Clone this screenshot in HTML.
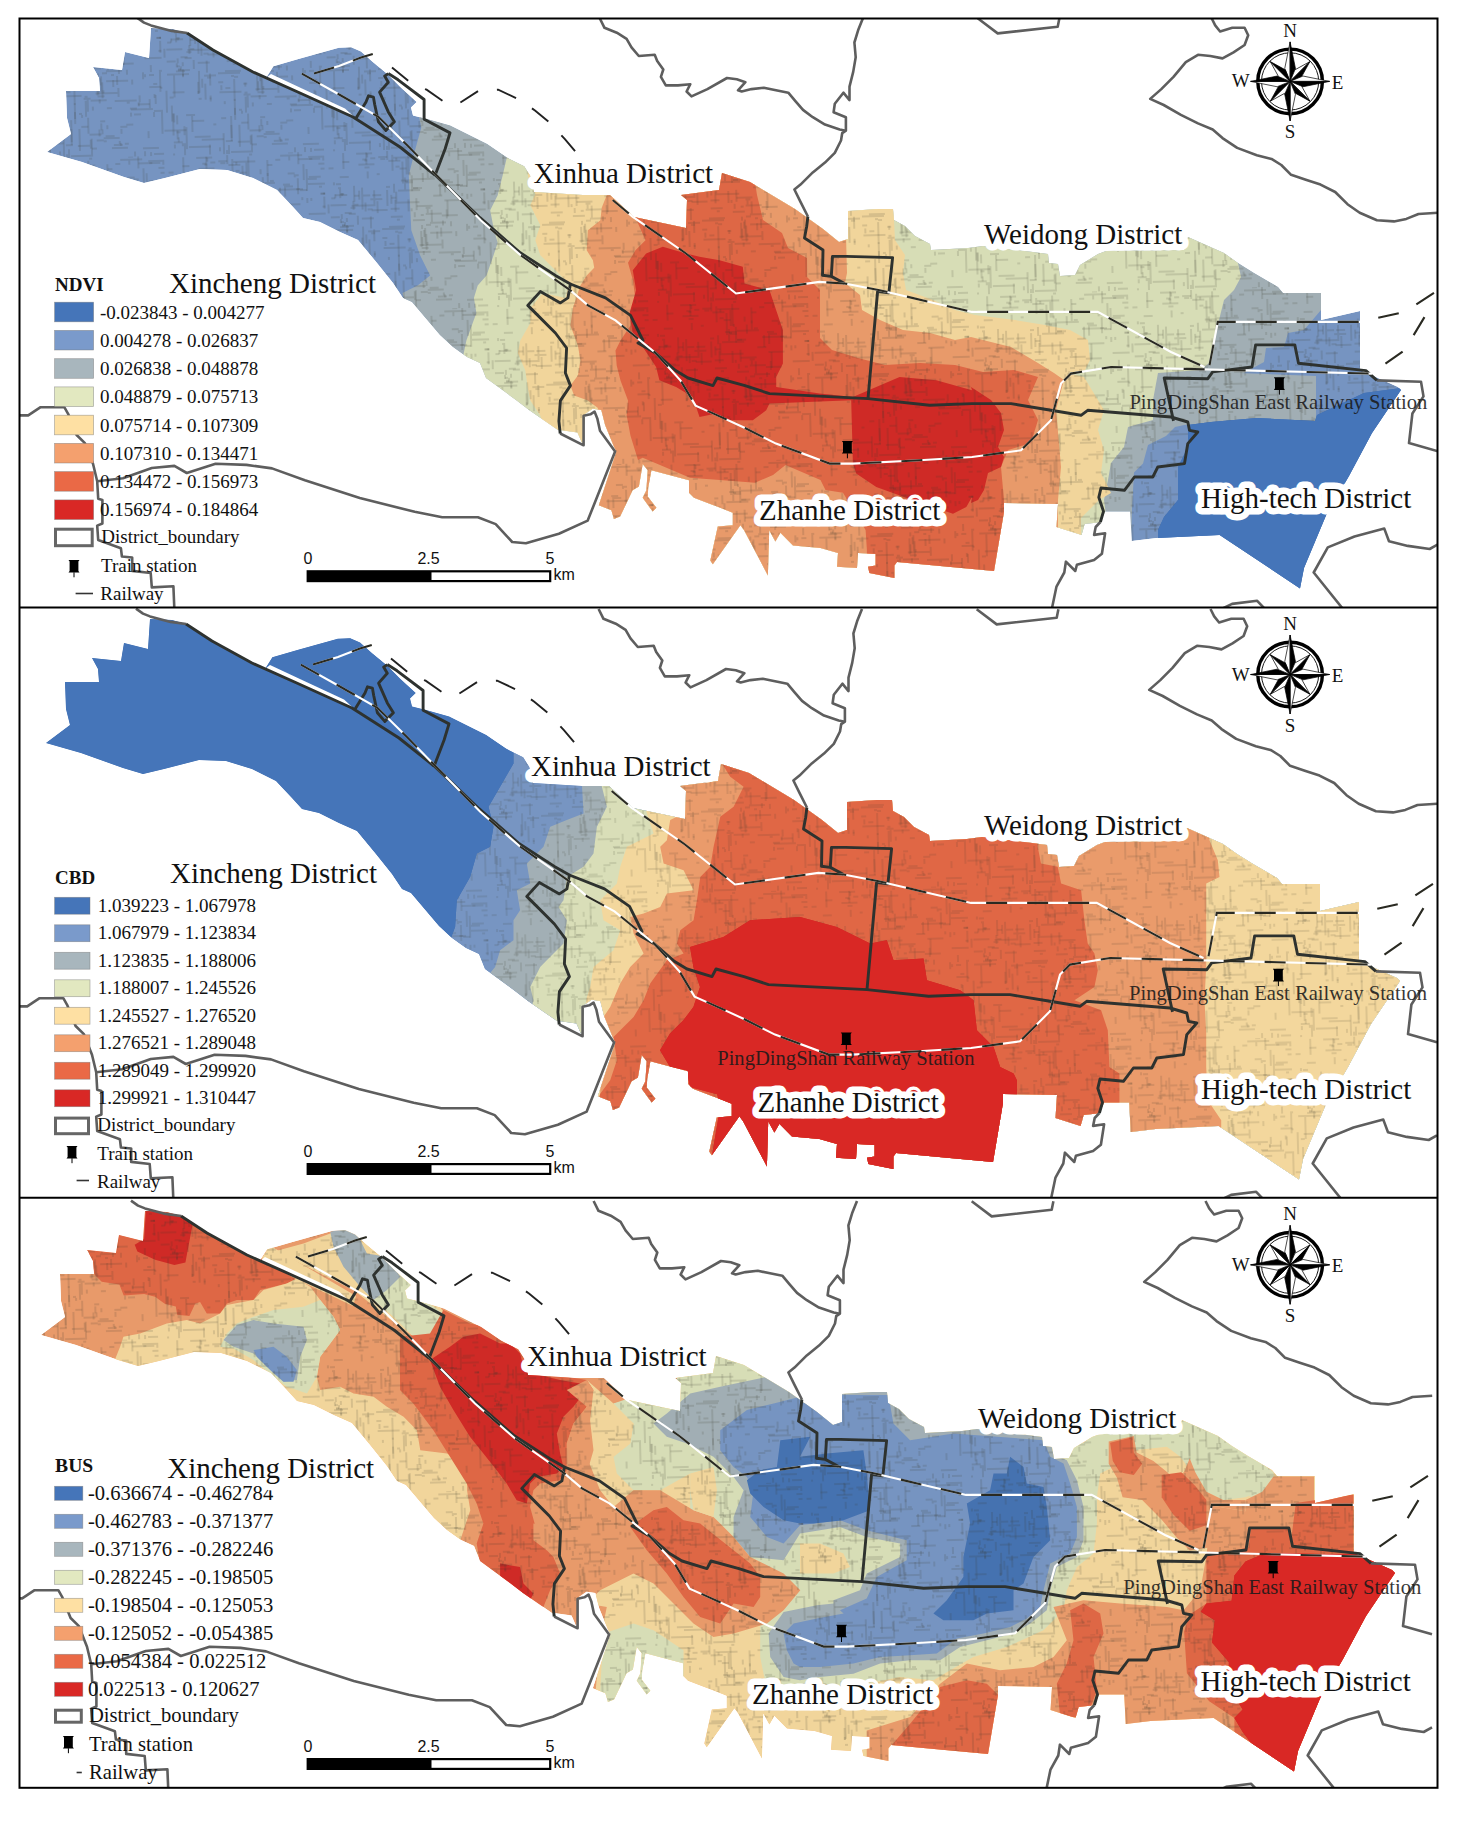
<!DOCTYPE html>
<html lang="en"><head><meta charset="utf-8"><title>NDVI, CBD and BUS maps</title>
<style>html,body{margin:0;padding:0;background:#fff}svg{display:block}text{font-family:"Liberation Serif",serif;fill:#111}.sans{font-family:"Liberation Sans",sans-serif;font-size:16px}.lab{font-size:29px;paint-order:stroke;stroke:#fff;stroke-width:13px;stroke-linejoin:round}.st{font-size:20.6px;fill:#1a1a1a;opacity:0.88}.lg{font-size:19px}.g{fill:none;stroke:#5e5e5e;stroke-width:2.6;stroke-linejoin:round}.d{fill:none;stroke:#2e322f;stroke-width:2.9;stroke-linejoin:round}.rw{fill:none;stroke:#fff;stroke-width:2.1}.rb{fill:none;stroke:#2a2a22;stroke-width:2.1;stroke-dasharray:21 20}.ro{fill:none;stroke:#222;stroke-width:1.9;stroke-dasharray:21 19}</style></head><body>
<svg width="1457" height="1822" viewBox="0 0 1457 1822">
<defs>
<path id="city" d="M151 28 L173 29 L187 33 L213 50 L253 72 L266 78 L273.4 66.2 L299.3 58.8 L338.8 47.7 L351.2 47.2 L361 51.4 L373.4 62.5 L388.3 74.8 L400.6 87.2 L416.7 102 L411 107.4 L413 115.6 L427.8 119.3 L450 125.5 L487.1 144 L506.9 157.6 L524.2 166.3 L530.3 176.1 L534 192 L583 195 L610 195 L634 217 L686 228 L687 200 L681 195 L719 190 L722 173 L750 182 L795 209 L823 229 L839 242 L848 239 L848 211 L878 209 L893 209 L894 220 L905 226 L915 236 L930 244 L931 250 L968 248 L983 246 L1033 252 L1048 254 L1049 263 L1058 264 L1060 276 L1075 275 L1080 265 L1098 254 L1106 251 L1184 250 L1188 237 L1224 253 L1238 263 L1254 273 L1278 287 L1283 293 L1321 293 L1321 320 L1360 311 L1360 370 L1398 387 L1401 390 L1372 433 L1349 476 L1326 515.5 L1304 568 L1300 588.5 L1219.6 535 L1156.8 538 L1131.7 541 L1130.2 511.4 L1105 511.4 L1100.4 522.3 L1084.7 524 L1081.6 535 L1056.5 527 L1058 504 L1004 503 L1004 512 L994 571 L940 566 L897 562 L894.4 565.4 L894.4 578 L869.4 573 L868 566.7 L875.6 565.4 L875.6 554 L858 553 L857 568 L837 566.7 L838 553 L820.5 548 L793 545.4 L780.4 532.8 L775.4 541.6 L769.2 530.3 L767.9 575.4 L744.1 530.3 L740.4 525.3 L712.8 564.2 L710.3 560.4 L717.8 526.6 L732.8 525.3 L732.8 512.8 L720.3 507.8 L710.3 504 L694 497.8 L689 492.8 L689 480.2 L651.4 470.2 L648.2 487.8 L647.7 496.5 L656.4 507.8 L652.7 511.6 L642.7 497.8 L646.4 490.3 L647.7 470.2 L642.7 464 L638.9 486.5 L632.6 490.3 L620.1 516.6 L613.9 519.1 L611.4 510.3 L598.8 505.3 L616.4 451.4 L613.9 446.4 L605.1 425.1 L601.3 410.1 L592.6 408.8 L585 413.9 L582.5 443.9 L577.5 432.6 L560 430 L558 430 L529 410 L516 400 L486 378 L480 363 L467 357 L453 347 L440 335 L412 302 L403 298 L393 283 L377 263 L358 240 L340 232 L320 222 L303 218 L293 207 L277 190 L253 178 L227 170 L200 169 L165 178 L144 183 L124 177 L82 162 L47 152 L71 134 L67 118 L66 91 L100 91 L99 78 L93 67 L122 70 L125 52 L149 58Z"/>
<clipPath id="cityclip"><use href="#city"/></clipPath>
<clipPath id="pc0"><rect x="19.5" y="18.5" width="1418.0" height="589.0"/></clipPath>
<clipPath id="pc1"><rect x="19.5" y="607.5" width="1418.0" height="590.3"/></clipPath>
<clipPath id="pc2"><rect x="19.5" y="1197.8" width="1418.0" height="590.0"/></clipPath>
<pattern id="tex" width="160" height="160" patternUnits="userSpaceOnUse" patternTransform="rotate(-1.5)"><rect width="160" height="160" fill="#4a4a40" opacity="0.07"/><path d="M52 24h3M86 59v3M34 14h16M15 68v4M101 93v3M63 156v3M21 67v4M90 109v4M102 60v4M99 79v16M74 148h12M127 112h7M48 79v12M46 157v4M26 55h22M154 12h12M56 79h22M15 43h4M112 104h22M62 107v3M57 98h22M123 21h7M147 79h5M88 141v16M45 66v12M61 37h4M37 37v22M29 45h5M59 91v5M82 99h3M139 152h16M63 77h16M11 33h5M96 16v5M152 98v4M98 24v9M96 76v4M159 75h22M23 120h9M111 83v7M85 23v3M48 103v4M42 59h5M36 87v12M98 126v7M131 118h7M79 117v3M76 31h12M150 158h12M16 75h12M100 144h3M104 128v4M19 62h7M29 126h12M151 115h22M151 116v5M4 95v22M23 132v22M56 88h5M128 116v4M149 69v7M34 40v9M122 52v16M10 118v22M130 83v5M84 3v22M97 124h5M76 116h3M83 89v4M9 31v3M81 90h4M98 81v7M72 85v22M40 84v9M143 32h22M19 71v4M69 34v9M144 25h12M141 155v7M15 142v5M133 26v16M65 67h12M116 3h22M3 53v9M10 158v7M17 42v3M29 121v16M108 151h16M147 91h12M9 110v16M43 3v4M13 137h4M19 2v16M43 21v7M155 42h5M50 49h7M80 28v12M159 6v3M88 30h22M72 105v16M87 142v9M157 55h5M56 9h5M100 141h16M14 135v9M111 7h5M71 42v12M88 39h9M29 54h4M80 32h3M131 23h3M48 101v4M85 120v16M115 79v9M103 7v16M130 22v3M93 143h7M7 102h4M72 8v3M109 78h3M11 149v4M11 118v9M135 38h7M104 74h16M146 46v3M103 12h5M104 111h5M10 43v4M108 47h9M75 19h7M14 76h9M131 155v22M62 147h7M14 120v9M21 131v9M113 37h22M25 152h22M116 67h16M134 0v12M19 148v3M46 60h16M139 12v16M137 45v3M46 150v7M70 50v12M68 5v16M151 88h4M117 72v5M46 8h5M66 45v9M156 42h7M89 63v5M12 80v22M72 53h22M88 39h5M15 38v9M32 3h16M119 34h9M10 44h12M81 101h7M143 62h22M50 130h3M68 122v22M78 12v22M40 17h5M156 17h22M124 0h5M147 103v9M100 85v16M18 11h7M36 96v3M159 45v12M141 76v7M5 66h9M31 142h16M36 68h12M5 54h16M63 1v9M81 33h7M131 37h7M142 17v22M143 78v3M23 63h7M95 66h3M72 114v12M160 149h12M104 84h22M106 61v12M71 17h4M56 153v4M121 61v9M69 8h22M87 71h12M144 5h16M100 65h16M10 147h9M10 97h12M153 99v9M110 148h9M121 147h4M37 76v22M62 40v16M21 79v3M118 132v5M52 51v12M95 82v16M40 10h3M87 26v16M158 42h4M67 158h22M21 74v7M136 106v4M47 45h9M118 32h7M38 45h7M63 159v7M16 74h3M76 131v22M6 47h4M96 132v7M60 139v22M124 106h3M95 99h7M54 7h9M117 146v3M65 59h9M5 79h22M16 63v5M15 26h9M45 49h3M91 57h16M123 128h7M65 151v16M68 131v16M58 124h5M88 103h16M100 59h5M45 83h4M78 129h7M134 7h22M97 102v4M99 132v5M137 99v7M29 35v16M25 57h5M116 144v3M135 108h12M96 88v9M49 40v16M71 70h3M158 74v22M125 73v5M64 11h12M15 71h3M21 148v12M82 9v16M125 4v4M117 130h7M142 46v5M115 35v12M40 52v9M73 41h22M42 81h12M32 65v9M143 27h9M85 102v12M72 83h4M86 137h12M158 92h12M13 37h3M83 50v12M120 35v9M69 82h3M36 104h3M91 49v12M66 48h5M100 76h5M128 113h22M102 139h9M42 2v12M93 96h22M145 7h3M38 9h4M88 151h5M83 103v16M28 50v9M159 116v22M1 135h22M105 28h4M103 20v9M43 89v16M147 156v9M154 35h3M145 135v7M119 52h16M38 145h22M85 1h3M116 91v9M63 94h5M4 17h5" stroke="#33332a" stroke-width="0.7" fill="none" opacity="0.42"/></pattern>
<g id="lines"><path class="g" d="M137 17.6 L144 22.6 L151 25.4 L171.6 30.9 L187 33"/><path class="g" d="M18 415.4 L28.2 415.4 L40.6 407.2 L64.3 407.2 L68.4 414.4 L76.6 435 L84.9 443.2 L93 463.8 L97.2 481.3 L98.2 498.8 L102.4 499.9 L102.4 523.5 L97.2 525.6 L98.2 540 L120.9 548.2 L121.9 556.5 L132.2 557.5 L132.2 570.9 L150.7 573 L151.8 587.4 L173.4 586.3 L174.4 610"/><path class="g" d="M97.2 481.3 L123 478.2 L151.8 468 L174.4 465.9 L186.8 473 L215.6 463.8 L246.5 464.9 L272 468.4 L304.9 480.2 L359.8 498.1 L414.7 511.8 L442.2 517.3 L477.9 517.3 L495.7 524.1 L512.2 542 L525.9 543.3 L558.9 533.7 L587.7 520.6 L615.1 451.4 L600 430.8 L597.3 418.4 L594.5 411.6 L590.4 414.3 L583.6 415.7 L583.6 445.3 L560.2 433.5"/><path class="g" d="M599.6 18 L604.5 27.8 L616.8 32.7 L626.6 38.8 L631.5 47.4 L638.8 56 L654.7 54.8 L657.2 60.9 L663.3 69.5 L660.9 76.8 L665.8 85.4 L678 85.4 L690.3 84.2 L686.6 91.5 L691.5 96.4 L707.4 89.1 L727 78 L736.8 79.3 L745.4 82.2 L738 90.3 L741.7 91.5 L751.5 89.1 L763.8 87.8 L776 90.3 L788.3 92.7 L795.6 101.3 L803 109.9 L812.8 117.2 L825 124.6 L839.7 129.5 L845.9 130.7"/><path class="g" d="M863 18 L858.1 30.3 L854.4 42.5 L855.7 57.2 L853.2 71.9 L849.5 86.6 L849.5 100.1 L843.4 92.7 L834.8 103.8 L833.6 112.3 L839.7 114.8 L845.9 117.2 L845.9 130.7 L842.2 133.2 L841 140.5 L834.8 152.8 L825 162.6 L812.8 172.4 L800.5 184.6 L794.4 189.5 L800.5 201.8 L807.9 216.5"/><path class="g" d="M977.7 18.3 L997.7 33.4 L1057.7 26.7 L1059.4 18.3"/><path class="g" d="M1211.5 18 L1215.2 25.4 L1220.1 31.5 L1232.3 27.8 L1244.6 27.8 L1248.2 35.2 L1244.6 45 L1233.5 52.3 L1222.5 58.4 L1210.3 56 L1198 54.8 L1185.8 62.1 L1173.5 76.8 L1161.3 89.1 L1150.2 98.9 L1163.7 105 L1180.9 114.8 L1198 123.4 L1212.7 129.5 L1222.5 138.1 L1237.2 147.9 L1256.8 155.2 L1271.5 158.9 L1281.3 165 L1291.1 174.8 L1305.8 179.7 L1320.5 184.6 L1335.2 192 L1347.5 204.2 L1359.7 212.8 L1376.9 220.2 L1394 221.4 L1406.3 218.9 L1418.5 214 L1438.2 212.8"/><path class="g" d="M1376.9 380.4 L1421 381.7 L1423.5 396.4 L1412.4 413.5 L1409 443.1 L1438 451.3"/><path class="g" d="M1438 544.3 L1429.7 549 L1407.8 545.9 L1389 541.2 L1384.3 528.6 L1354.5 536.5 L1327.8 547.4 L1313.7 572.5 L1343 609"/><path class="g" d="M1219.6 609.9 L1232.1 603.9 L1257.2 600.8 L1265 609"/><path class="g" d="M1100.4 522 L1095.7 527 L1094.1 534.9 L1105.1 533.3 L1101.9 553.7 L1094.1 560 L1076.9 564.7 L1075.3 571 L1065.9 561.6 L1064.3 572.5 L1056.5 586.6 L1051.8 609"/><path class="d" d="M187 33 L213 50 L253 72 L300 93 L353 117 L400 147 L435 175"/><path class="d" d="M388.3 73.6 L398.1 79.8 L424.1 99.5 L424.1 119.3 L450 132.9 L445.1 149 L435.2 174.9 L480 217.7 L520.3 252.8 L555.4 275.4 L570.4 284 L567.9 297.9 L560.4 302.9 L540.3 291.6 L527.8 305.4 L535.3 312.9 L555.4 333 L566.6 348 L565.4 373 L570.4 385.6 L560.4 400.6 L558.9 421.2 L560.2 433.5"/><path class="d" d="M388.3 73.6 L384.6 76.1 L388.3 82.2 L379.6 92.1 L388.3 111.9 L394.4 121.8 L385.8 130.4 L378.4 121.8 L374.7 104.5 L373.4 97.1 L368.5 95.8 L366 102 L356.1 118.1"/><path class="d" d="M570.4 284 L605.5 297.9 L630.5 315.4 L643 340.5 L638 343 L655.6 353 L675.6 370.5 L688 378 L713 385.6 L717 378 L745 385.6 L769.5 393.6 L868 398.6 L929.6 405.3 L972 403.6 L1011 403.6 L1051 410.3 L1081 415.3 L1087.7 410.3 L1171 417 L1187.8 422 L1189.5 430.3 L1197.8 432 L1187.8 443.6 L1184.5 463.6 L1157.8 467 L1152.8 477 L1134.4 477 L1124.4 490.3 L1101 488 L1098.8 497.3 L1103.5 511.4 L1100.4 522"/><path class="d" d="M807.9 216.5 L806.7 226.3 L804.5 238 L823 250 L822.5 275.2 L831.3 276.4 L832.5 256.4 L846.3 256.4 L892.6 257.6 L888.9 292.7 L877.6 291.5 L868 398.6"/><path class="d" d="M831.3 276.4 L844.6 283.5"/><path class="d" d="M1173.5 420.9 L1164.2 378 L1207.8 378.7 L1212.7 371.9 L1252 367 L1255.6 344.9 L1294.8 344.9 L1298.5 363.3 L1365.9 370.6 L1376.9 380.4"/><path class="rw" d="M301.8 73.6 L340 95 L378.4 116.8 L408 146 L437.7 176.5 L481 220.5 L521 255.5 L570.4 290.4 L588 305.4 L615.5 320.4 L655.6 353 L680.6 380.6 L695.6 405.6 L718 415.6 L745 428 L776 443.6 L829.6 463.6 L853 463.6 L919.6 460.3 L972 457 L1021 450.3 L1051 420.3 L1061 383.6 L1071 373.6 L1111 367 L1371.3 373.6 L1404.6 350.2 L1434.6 300.2 M314 73.6 L339 66 L361 57.5 L375 53.3 M612.7 200 L632.8 216.8 L686 253.5 L736 293.5 L819.5 281.9 L844.6 283.5 L879.6 290.2 L972 311.9 L1097.7 311.9 L1171 352 L1204.5 367 M1209.5 365.2 L1217.8 321.9 L1359.6 321.9 L1404.6 311.9 L1438 290.2"/><path class="rb" d="M301.8 73.6 L340 95 L378.4 116.8 L408 146 L437.7 176.5 L481 220.5 L521 255.5 L570.4 290.4 L588 305.4 L615.5 320.4 L655.6 353 L680.6 380.6 L695.6 405.6 L718 415.6 L745 428 L776 443.6 L829.6 463.6 L853 463.6 L919.6 460.3 L972 457 L1021 450.3 L1051 420.3 L1061 383.6 L1071 373.6 L1111 367 L1371.3 373.6 L1404.6 350.2 L1434.6 300.2 M314 73.6 L339 66 L361 57.5 L375 53.3 M612.7 200 L632.8 216.8 L686 253.5 L736 293.5 L819.5 281.9 L844.6 283.5 L879.6 290.2 L972 311.9 L1097.7 311.9 L1171 352 L1204.5 367 M1209.5 365.2 L1217.8 321.9 L1359.6 321.9 L1404.6 311.9 L1438 290.2"/><path class="ro" d="M392 67.4 L413 84.7 L426.6 89.7 L442.6 100.8 L457.4 104.5 L478.4 90.9 L498.2 89.7 L519.2 99.5 L535.3 110.7 L550.1 123 L564.9 139.1 L577.3 153.9"/></g>
<g id="stn"><path d="M-5.5 -6.3h11l-1.1 1.6v9.4l1.1 1.6h-11l1.1 -1.6v-9.4z" fill="#000"/><path d="M0 6v5" stroke="#000" stroke-width="1"/></g>
<g id="compass"><circle r="32.3" fill="none" stroke="#000" stroke-width="3.4"/><circle r="28.6" fill="none" stroke="#000" stroke-width="0.9"/><g transform="rotate(0)"><path d="M0 0L0 -39.5L-5.36 -12.93Z" fill="#fff" stroke="#000" stroke-width="0.7"/><path d="M0 0L0 -39.5L5.36 -12.93Z" fill="#000" stroke="#000" stroke-width="0.7"/></g><g transform="rotate(45)"><path d="M0 0L0 -28L-4.78 -11.55Z" fill="#fff" stroke="#000" stroke-width="0.7"/><path d="M0 0L0 -28L4.78 -11.55Z" fill="#000" stroke="#000" stroke-width="0.7"/></g><g transform="rotate(90)"><path d="M0 0L0 -39.5L-5.36 -12.93Z" fill="#fff" stroke="#000" stroke-width="0.7"/><path d="M0 0L0 -39.5L5.36 -12.93Z" fill="#000" stroke="#000" stroke-width="0.7"/></g><g transform="rotate(135)"><path d="M0 0L0 -28L-4.78 -11.55Z" fill="#fff" stroke="#000" stroke-width="0.7"/><path d="M0 0L0 -28L4.78 -11.55Z" fill="#000" stroke="#000" stroke-width="0.7"/></g><g transform="rotate(180)"><path d="M0 0L0 -39.5L-5.36 -12.93Z" fill="#fff" stroke="#000" stroke-width="0.7"/><path d="M0 0L0 -39.5L5.36 -12.93Z" fill="#000" stroke="#000" stroke-width="0.7"/></g><g transform="rotate(225)"><path d="M0 0L0 -28L-4.78 -11.55Z" fill="#fff" stroke="#000" stroke-width="0.7"/><path d="M0 0L0 -28L4.78 -11.55Z" fill="#000" stroke="#000" stroke-width="0.7"/></g><g transform="rotate(270)"><path d="M0 0L0 -39.5L-5.36 -12.93Z" fill="#fff" stroke="#000" stroke-width="0.7"/><path d="M0 0L0 -39.5L5.36 -12.93Z" fill="#000" stroke="#000" stroke-width="0.7"/></g><g transform="rotate(315)"><path d="M0 0L0 -28L-4.78 -11.55Z" fill="#fff" stroke="#000" stroke-width="0.7"/><path d="M0 0L0 -28L4.78 -11.55Z" fill="#000" stroke="#000" stroke-width="0.7"/></g><text x="0" y="-44.5" text-anchor="middle" font-size="19">N</text><text x="0" y="57" text-anchor="middle" font-size="19">S</text><text x="-49.5" y="6" text-anchor="middle" font-size="19">W</text><text x="47.5" y="7.5" text-anchor="middle" font-size="19">E</text></g>
</defs>
<rect width="1457" height="1822" fill="#fff"/>
<g clip-path="url(#pc0)">
<g transform="translate(0 0)">
<g clip-path="url(#cityclip)">
<use href="#city" fill="#7a9acb"/>
<path d="M417.6 110 L421.3 127.6 L415.1 150.1 L408.8 175.2 L410.1 205.2 L411.3 230.3 L420.1 255.3 L430.1 275.4 L417.6 285.4 L402.5 292.9 L406.3 307.9 L415.1 322.9 L425.1 331.7 L417.6 350.5 L417.6 640 L1131 640 L1131 545 L1132 509 L1134 472.6 L1143 463.5 L1148 445 L1166 436 L1175 427 L1189 424 L1211 420 L1218 383 L1244 373 L1264 362 L1266 348 L1284 347 L1288 333 L1304 330 L1321 310 L1321 280 L1321 0 L417.6 0Z" fill="#a8b6bd"/>
<path d="M507.8 150.1 L506.5 158.9 L502.7 175.2 L497.7 195.2 L490.2 210.2 L494 230.3 L497.7 242.8 L492.7 257.8 L486.5 275.4 L477.7 285.4 L473.9 297.9 L476.4 312.9 L472.7 322.9 L466.4 340.5 L462.7 358 L457.7 370.5 L457.7 640 L1106 640 L1106 540 L1106 515 L1104 500 L1108 480 L1111 463 L1124 447 L1128 427 L1153 420 L1153 400 L1158 373 L1201 370 L1209 363 L1214 343 L1219 320 L1224 300 L1234 290 L1241 277 L1238 263 L1238 230 L1238 0 L507.8 0Z" fill="#e2e8c0"/>
<path d="M527.8 175.2 L530.3 185.2 L535.3 193.9 L530.3 205.2 L540.3 225.3 L535.3 240.3 L540.3 255.3 L555.4 270.3 L569.1 284.1 L565.4 297.9 L542.8 292.9 L530.3 307.9 L530.3 322.9 L520.3 340.5 L517.8 353 L525.3 370.5 L527.8 388.1 L530.3 400.6 L540.3 415.6 L542.8 423.1 L540.3 435.7 L540.3 640 L1081 640 L1081 540 L1081 518 L1099 500 L1111 493 L1101 473 L1104 450 L1098 430 L1104 410 L1084 377 L1068 373 L1085 370 L1090 360 L1088 340 L1070 330 L1045 325 L1015 320 L975 315 L955 310 L933 300 L906 290 L903 273 L905 255 L895 240 L894 220 L894 190 L894 0 L527.8 0Z" fill="#fee0a3"/>
<path d="M610.5 185.2 L606.7 195.2 L601.7 207.7 L600.4 220.2 L587.9 230.3 L586.7 250.3 L592.9 260.3 L594.2 267.8 L586.7 275.4 L580.4 285.4 L572.9 307.9 L570.4 325.5 L577.9 345.5 L580.4 360.5 L577.9 375.6 L570.4 385.6 L574.1 395.6 L587.9 400.6 L597.9 408.1 L595.4 425.7 L595.4 640 L1058 640 L1058 540 L1058 500 L1061 467 L1059 443 L1056 410 L1064 380 L1054 373 L1038 363 L1011 347 L971 337 L955 340 L930 333 L903 330 L880 320 L862 310 L860 295 L845 283 L847 273 L846 235 L846 200 L846 0 L610.5 0Z" fill="#f4a06e"/>
<path d="M630.5 205.2 L635.5 217.7 L645.5 240.3 L635.5 250.3 L628 262.8 L633 280.4 L635.5 300.4 L630.5 315.4 L630.5 325.5 L620.5 340.5 L615.5 350.5 L616.7 365.5 L620.5 380.6 L628 400.6 L626.7 415.6 L630.5 435.7 L638 460 L642.7 457.7 L660 465 L690 477.7 L720 480 L755 482.7 L773 475 L785.5 465 L820.5 480 L825.5 490 L843 492.8 L865.6 530 L866.9 550 L866 620 L1004 620 L1004 500 L1001 467 L1008 450 L1031 443 L1038 420 L1028 400 L1038 377 L1014 370 L983 372 L955 365 L920 363 L885 365 L858 358 L832 350 L820 338 L820 290 L807 277 L807 258 L788 248 L782 233 L763 220 L757 195 L750 150 L630 150Z" fill="#ea6946"/>
<path d="M662.8 246.8 L686.1 253.5 L699.5 256.8 L719.5 260.2 L742.8 266.8 L744.5 283.5 L769.5 290.2 L776.2 310.2 L782.9 330.2 L782.9 363.6 L776.2 376.9 L776.2 386.9 L819.6 393.6 L852.9 396.9 L899.6 376.9 L936.3 380.3 L972 390.3 L971 387 L991 400 L1001 413 L1004 430 L998 447 L1004 457 L1001 467 L988 473 L984 490 L978 500 L971 503 L972 497 L966.3 507 L953 513.7 L913 500.3 L876.3 487 L856.2 473.6 L852.9 463.6 L851.2 400.3 L769.5 403.6 L766.2 410.3 L752.8 420.3 L726.2 420.3 L716.2 413.6 L699.5 416.9 L692.8 396.9 L676.1 386.9 L659.4 380.3 L656.1 366.9 L642.8 346.9 L632.8 333.6 L629.4 313.5 L636.1 290.2 L632.8 270.2 L646.1 253.5Z" fill="#d92825"/>
<path d="M1166 376 L1210 372 L1316 376 L1316 421 L1257 418 L1211 422 L1188 425 L1176 424Z" fill="#a8b6bd"/>
<path d="M1188 425 L1211 422 L1257 418 L1315 421 L1317 415 L1364 393 L1401 388 L1450 388 L1450 640 L1158 640 L1158 530 L1164 517 L1178 500 L1178 467 L1188 447Z" fill="#4575b9"/>
<use href="#city" fill="url(#tex)" opacity="1"/>
<path d="M1188 425 L1211 422 L1257 418 L1315 421 L1317 415 L1364 393 L1401 388 L1450 388 L1450 640 L1158 640 L1158 530 L1164 517 L1178 500 L1178 467 L1188 447Z" fill="#4575b9"/>
</g>
<path d="M266 78L300 93L353 117L357 119.5L345 108.5L302 88.5L271 74Z" fill="#fff"/>
<use href="#lines"/>
</g>
</g>
<g clip-path="url(#pc1)">
<g transform="translate(-1 591)">
<g clip-path="url(#cityclip)">
<use href="#city" fill="#4575b9"/>
<path d="M514.5 152.4 L514.5 172.4 L501.1 195.8 L489.5 215.8 L494.5 235.8 L491.1 255.8 L477.8 262.5 L471.1 285.9 L457.8 309.2 L456.1 335.9 L451.1 349.2 L447.8 362.6 L447.8 640 L1460 640 L1460 0 L514.5 0Z" fill="#7a9acb"/>
<path d="M582.9 192.5 L584.5 222.5 L567.8 229.1 L551.2 235.8 L544.5 255.8 L527.8 272.5 L531.2 292.5 L517.8 299.2 L521.1 319.2 L514.5 329.2 L514.5 349.2 L501.1 359.2 L496.1 375.9 L487.8 385.9 L484.5 399.3 L484.5 640 L1460 640 L1460 0 L582.9 0Z" fill="#a8b6bd"/>
<path d="M601.2 185.8 L602.9 195.8 L607.9 215.8 L597.9 235.8 L594.5 262.5 L584.5 275.8 L567.8 285.9 L564.5 309.2 L559.5 315.9 L567.8 329.2 L564.5 352.6 L547.8 369.2 L541.2 375.9 L531.2 395.9 L534.5 409.3 L531.2 422.6 L531.2 640 L1460 640 L1460 0 L601.2 0Z" fill="#e2e8c0"/>
<path d="M644.6 209.1 L647.9 222.5 L654.6 242.5 L627.9 255.8 L621.2 275.8 L617.9 292.5 L601.2 309.2 L604.5 329.2 L621.2 339.2 L614.5 359.2 L594.5 375.9 L591.2 395.9 L587.9 405.9 L584.5 425.9 L584.5 640 L1460 640 L1460 0 L644.6 0Z" fill="#fee0a3"/>
<path d="M681.3 185.8 L681.3 195.8 L684.6 222.5 L671.2 229.1 L667.9 249.2 L661.2 255.8 L664.6 272.5 L684.6 279.2 L694.6 299.2 L667.9 302.5 L661.2 315.9 L644.6 322.5 L631.2 325.9 L634.6 342.6 L644.6 362.6 L631.2 375.9 L621.2 392.6 L611.2 415.9 L604.5 425.9 L601.2 442.6 L601.2 640 L1222.2 640 L1222.2 556 L1222.2 529.3 L1208.8 509.3 L1207.2 476 L1207.2 442.6 L1205.5 409.3 L1207.2 375.9 L1207.2 292.5 L1220.5 285.9 L1218.8 269.2 L1210.5 249.2 L1210.5 225.8 L1210.5 0 L681.3 0Z" fill="#f4a06e"/>
<path d="M721.3 159.1 L722.9 172.4 L731.3 185.8 L744.6 195.8 L734.6 215.8 L721.3 225.8 L714.6 255.8 L711.3 275.8 L701.3 285.9 L697.9 309.2 L694.6 329.2 L681.3 339.2 L677.9 352.6 L684.6 362.6 L667.9 369.2 L651.2 392.6 L644.6 409.3 L634.6 425.9 L614.5 446 L617.9 469.3 L611.2 489.3 L601.2 502.7 L594.5 522.7 L594.5 640 L1120.4 640 L1120.4 542.7 L1120.4 482.6 L1110.4 476 L1108.8 439.3 L1102.1 419.3 L1075.4 409.3 L1095.4 395.9 L1098.8 379.2 L1095.4 362.6 L1088.7 352.6 L1085.4 329.2 L1082.1 299.2 L1062.1 292.5 L1058.7 275.8 L1042 272.5 L1038.7 255.8 L1038.7 235.8 L1038.7 0 L721.3 0Z" fill="#ea6946"/>
<path d="M691 355.9 L724.4 345.9 L751.1 329.2 L801.1 325.9 L837.8 335.9 L871.2 352.6 L887.8 349.2 L894.5 369.2 L924.5 367.6 L927.9 389.3 L961.2 399.3 L974.6 409.3 L977.9 439.3 L994.6 456 L1001.2 476 L1014.6 482.6 L1017.9 489.3 L1017.9 509.3 L1004.6 509.3 L994.6 596.1 L707.7 596.1 L721.1 516.3 L718.1 503.3 L691 496 L687.7 479.3 L671 476 L661 459.3 L671 442.6 L684.4 429.3 L694.4 415.9 L701 395.9 L694.4 375.9Z" fill="#d92825"/>
<use href="#city" fill="url(#tex)" opacity="0.85"/>
<path d="M0 0 L514.5 0 L514.5 152.4 L514.5 172.4 L501.1 195.8 L489.5 215.8 L494.5 235.8 L491.1 255.8 L477.8 262.5 L471.1 285.9 L457.8 309.2 L456.1 335.9 L451.1 349.2 L447.8 362.6 L447.8 640 L0 640Z" fill="#4575b9"/>
<path d="M691 355.9 L724.4 345.9 L751.1 329.2 L801.1 325.9 L837.8 335.9 L871.2 352.6 L887.8 349.2 L894.5 369.2 L924.5 367.6 L927.9 389.3 L961.2 399.3 L974.6 409.3 L977.9 439.3 L994.6 456 L1001.2 476 L1014.6 482.6 L1017.9 489.3 L1017.9 509.3 L1004.6 509.3 L994.6 596.1 L707.7 596.1 L721.1 516.3 L718.1 503.3 L691 496 L687.7 479.3 L671 476 L661 459.3 L671 442.6 L684.4 429.3 L694.4 415.9 L701 395.9 L694.4 375.9Z" fill="#d92825"/>
</g>
<path d="M266 78L300 93L353 117L357 119.5L345 108.5L302 88.5L271 74Z" fill="#fff"/>
<use href="#lines"/>
</g>
</g>
<g clip-path="url(#pc2)">
<g transform="translate(-6 1183)">
<g clip-path="url(#cityclip)">
<use href="#city" fill="#f4a06e"/>
<path d="M76 7 L182.8 17 L312.9 90.4 L302.9 95.4 L292.8 100.4 L279.5 103.7 L266.2 107.1 L259.5 117.1 L242.8 117.1 L232.8 120.4 L226.1 130.4 L212.8 130.4 L206.1 119.1 L201.1 120.7 L195.4 133.1 L183.1 131.7 L181.8 123.4 L170.8 120.7 L161.1 113.7 L150.1 111.1 L129.7 112.4 L125.4 101.4 L107.7 98.7 L100.7 91.7 L94 67.7 L76 67Z" fill="#ea6946"/>
<path d="M152.1 25.3 L199.4 37 L191.4 79.4 L180.4 82.1 L161.1 76.7 L143.4 68.4 L140.7 61.7 L150.1 56Z" fill="#d92825"/>
<path d="M119.4 180.4 L126.1 163.8 L129.4 153.8 L146.1 150.4 L172.8 140.4 L192.8 137.1 L206.1 140.4 L226.1 130.4 L232.8 122.1 L259.5 117.1 L269.5 107.1 L292.8 100.4 L302.9 95.4 L316.2 103.7 L326.2 117.1 L339.5 133.8 L346.2 147.1 L336.2 160.4 L326.2 173.8 L322.9 193.8 L326.2 207.1 L346.2 203.8 L359.6 210.5 L379.6 213.8 L392.9 223.8 L409.6 233.8 L422.9 247.2 L426.3 267.2 L453 270.5 L473 280.5 L473 307.2 L476.3 327.2 L469.6 347.2 L463 367.2 L426.3 340.6 L359.6 260.5 L306.2 227.1 L259.5 193.8 L212.8 180.4 L159.4 187.1Z" fill="#fee0a3"/>
<path d="M232.8 150.4 L242.8 140.4 L259.5 133.8 L279.5 127.1 L309.5 123.7 L326.2 117.1 L339.5 133.8 L346.2 147.1 L336.2 160.4 L326.2 173.8 L322.9 193.8 L312.9 210.5 L302.9 207.1 L292.8 203.8 L286.2 198.8 L259.5 177.1 L239.5 165.4 L226.1 163.8Z" fill="#e2e8c0"/>
<path d="M242.8 142.1 L259.5 137.1 L279.5 140.4 L309.5 143.8 L312.9 157.1 L306.2 173.8 L302.9 197.1 L289.5 198.8 L272.8 183.8 L259.5 170.4 L239.5 163.8 L229.5 157.1Z" fill="#a8b6bd"/>
<path d="M259.5 167.1 L279.5 163.8 L292.8 173.8 L302.9 187.1 L299.5 198.8 L289.5 198.8 L276.2 187.1 L262.8 173.8Z" fill="#7a9acb"/>
<path d="M262 72 L275 62 L362 113 L359 123 L300 95Z" fill="#fee0a3"/>
<path d="M272.8 70.4 L309.5 60.4 L336.2 50.4 L359.6 43.7 L409.6 73.7 L453 133.8 L436.3 167.1 L419.6 153.8 L392.9 133.8 L359.6 107.1 L326.2 90.4 L292.8 73.7Z" fill="#fee0a3"/>
<path d="M379.6 117.1 L406.3 93.7 L392.9 73.7 L409.6 73.7 L426.3 93.7 L429.6 117.1 L449.6 130.4 L437.9 163.8 L419.6 153.8 L399.6 133.8Z" fill="#e2e8c0"/>
<path d="M336.2 48.7 L359.6 43.7 L372.9 70.4 L392.9 73.7 L406.3 93.7 L392.9 107.1 L379.6 117.1 L366.2 103.7 L349.5 83.7 L339.5 63.7Z" fill="#a8b6bd"/>
<path d="M406 153.8 L436 150.4 L449.4 127.1 L476 140.4 L492.7 143.8 L506.1 153.8 L519.4 153.8 L532.8 173.8 L546.1 187.1 L572.8 193.8 L592.8 197.1 L599.5 207.1 L592.8 223.8 L579.4 240.5 L572.8 260.5 L572.8 287.2 L566.1 297.2 L546.1 300.5 L539.4 307.2 L536.1 323.9 L546.1 360.6 L559.4 373.9 L566.1 390.6 L556.1 407.3 L549.4 423.9 L536.1 420.6 L519.4 407.3 L502.7 393.9 L486.1 380.6 L482.7 360.6 L489.4 340.6 L482.7 320.5 L472.7 300.5 L456 273.8 L439.4 247.2 L419.3 220.5 L406 207.1Z" fill="#ea6946"/>
<path d="M436 177.1 L456 163.8 L469.4 153.8 L486.1 150.4 L506.1 160.4 L516.1 160.4 L526.1 170.4 L529.4 183.8 L539.4 190.5 L566.1 197.1 L586.1 200.5 L589.5 210.5 L579.4 223.8 L569.4 233.8 L562.8 250.5 L566.1 270.5 L569.4 283.9 L562.8 290.5 L542.8 293.9 L536.1 300.5 L532.8 320.5 L522.7 317.2 L512.7 300.5 L502.7 287.2 L489.4 270.5 L476 253.8 L459.4 227.1 L446 203.8Z" fill="#d92825"/>
<path d="M506.1 380.6 L526.1 383.9 L529.4 400.6 L539.4 410.6 L536.1 417.3 L519.4 407.3 L506.1 393.9Z" fill="#d92825"/>
<path d="M539.4 340.6 L566.1 343.9 L569.4 360.6 L552.8 367.2 L539.4 357.2Z" fill="#f4a06e"/>
<path d="M592.8 197.1 L619.5 220.5 L682.9 207.1 L682.9 140.4 L892 140.4 L1460 0 L1460 640 L592.8 607.4 L606.1 457.3 L612.8 423.9 L592.8 420.6 L606.1 407.3 L639.5 390.6 L652.8 367.2 L636.2 343.9 L619.5 323.9 L606.1 307.2 L592.8 273.8 L586.1 247.2 L592.8 223.8 L599.5 207.1Z" fill="#fee0a3"/>
<path d="M619.5 220.5 L639.5 213.8 L682.9 207.1 L682.9 180.4 L739.6 167.1 L806.3 173.8 L839.4 173.8 L906.1 180.4 L966.1 220.5 L1059.5 227.1 L1089.5 260.5 L1106.2 253.8 L1186.3 237.2 L1222.9 253.8 L1273 290.5 L1292 300.5 L1292 327.2 L1239.6 307.2 L1206.3 300.5 L1186.3 273.8 L1172.9 263.8 L1139.6 267.2 L1126.2 280.5 L1106.2 290.5 L1102.9 313.9 L1102.9 340.6 L1099.5 370.6 L1082.9 383.9 L1072.8 407.3 L1069.5 427.3 L1049.5 447.3 L1012.8 464 L979.4 474 L956.1 487.3 L939.4 497.3 L906.1 494 L872.7 500.7 L839.4 507.3 L806 510.7 L772.9 507.3 L766.2 474 L766.2 440.6 L772.9 423.9 L756.2 373.9 L739.6 353.9 L719.5 333.9 L696.2 327.2 L696.2 290.5 L666.2 307.2 L639.5 307.2 L622.8 290.5 L619.5 273.8 L636.2 260.5 L639.5 240.5Z" fill="#e2e8c0"/>
<path d="M609.5 450.6 L639.5 440.6 L659.5 447.3 L689.5 467.3 L689.5 500.7 L666.2 507.3 L652.8 527.3 L622.8 527.3 L612.8 540.7 L606.1 507.3Z" fill="#e2e8c0"/>
<path d="M1081.1 266.8 L1097.9 252.9 L1184.5 236.1 L1223.6 250.1 L1257.1 272.4 L1279.5 289.2 L1279.5 297.6 L1268.3 308.7 L1251.5 314.3 L1229.2 317.1 L1212.4 308.7 L1201.3 289.2 L1195.7 275.2 L1184.5 269.6 L1178.9 255.7 L1162.1 252.9 L1139.8 252.9 L1114.7 258.5 L1111.9 269.6 L1097.9 280.8 L1092.3 303.1 L1097.9 328.3 L1095.1 353.4 L1083.9 364.6 L1070 375.8 L1056 386.9 L1056 353.4 L1072.8 347.8 L1081.1 308.7Z" fill="#e2e8c0"/>
<path d="M659.5 240.5 L672.8 230.5 L696.2 210.5 L726.2 203.8 L772.9 193.8 L806.3 187.1 L839.4 187.1 L906.1 193.8 L966.1 233.8 L1052.8 247.2 L1059.5 270.5 L1072.8 277.2 L1082.9 297.2 L1089.5 323.9 L1089.5 357.2 L1082.9 373.9 L1062.8 383.9 L1056.2 407.3 L1052.8 427.3 L1036.2 440.6 L1019.5 450.6 L992.8 457.3 L966.1 464 L946.1 477.3 L916.1 477.3 L886.1 480.6 L859.4 490.7 L826 494 L806 497.3 L789.6 494 L776.2 474 L774.6 450.6 L789.6 428.9 L822.9 422.3 L839.6 420.6 L839.4 417.3 L866 407.3 L872.7 390.6 L906.1 373.9 L906.1 360.6 L872.7 353.9 L846 343.9 L806 350.6 L789.6 377.2 L756.2 373.9 L739.6 353.9 L739.6 333.9 L749.6 307.2 L739.6 293.9 L719.5 273.8 L692.9 260.5 L672.8 253.8Z" fill="#a8b6bd"/>
<path d="M726.2 247.2 L752.9 227.1 L779.6 220.5 L806.3 213.8 L806 220.5 L849.4 212.1 L894.4 212.1 L899.4 240.5 L916.1 257.2 L959.4 250.5 L1049.5 257.2 L1056.2 273.8 L1069.5 280.5 L1076.2 300.5 L1082.9 323.9 L1082.9 353.9 L1076.2 370.6 L1056.2 380.6 L1049.5 407.3 L1046.2 423.9 L1032.8 435.6 L1016.1 444 L989.5 450.6 L962.8 455.6 L942.8 470.6 L916.1 472.3 L886.1 474 L859.4 480.6 L826 484 L806 484 L799.6 480.6 L792.9 467.3 L789.6 450.6 L799.6 440.6 L822.9 435.6 L849.6 430.6 L846 427.3 L872.7 415.6 L882.7 393.9 L912.7 377.2 L912.7 357.2 L872.7 347.2 L846 337.2 L806 342.2 L789.6 360.6 L772.9 353.9 L756.2 333.9 L759.6 307.2 L752.9 293.9 L739.6 283.9 L726.2 267.2Z" fill="#7a9acb"/>
<path d="M752.9 297.2 L766.2 287.2 L782.9 283.9 L786.3 257.2 L816.3 253.8 L806 273.8 L832.7 270.5 L869.4 267.2 L872.7 290.5 L876 327.2 L849.4 337.2 L819.3 340.6 L806 340.6 L789.6 337.2 L769.6 323.9 L756.2 310.5Z" fill="#4575b9"/>
<path d="M972.8 320.5 L996.1 307.2 L999.5 290.5 L1012.8 290.5 L1016.1 273.8 L1029.5 283.9 L1032.8 300.5 L1049.5 303.9 L1052.8 323.9 L1056.2 357.2 L1039.5 373.9 L1029.5 400.6 L1019.5 407.3 L1019.5 427.3 L992.8 430.6 L979.4 437.3 L949.4 437.3 L939.4 430.6 L952.8 417.3 L969.4 393.9 L969.4 373.9 L976.1 340.6Z" fill="#4575b9"/>
<path d="M806 360.6 L826 360.6 L849.4 370.6 L856 383.9 L839.4 390.6 L806 390.6Z" fill="#fee0a3"/>
<path d="M619.5 323.9 L639.5 307.2 L666.2 307.2 L682.9 317.2 L699.5 327.2 L719.5 333.9 L739.6 353.9 L756.2 373.9 L789.6 390.6 L806.3 407.3 L789.6 427.3 L772.9 440.6 L739.6 450.6 L719.5 454 L699.5 440.6 L679.5 420.6 L659.5 400.6 L639.5 390.6 L622.8 373.9 L606.1 340.6Z" fill="#f4a06e"/>
<path d="M636.2 343.9 L659.5 327.2 L672.8 323.9 L689.5 337.2 L706.2 340.6 L722.9 353.9 L739.6 367.2 L756.2 380.6 L766.2 393.9 L766.2 413.9 L759.6 423.9 L739.6 420.6 L726.2 440.6 L706.2 434 L689.5 413.9 L672.8 390.6 L652.8 367.2Z" fill="#ea6946"/>
<path d="M596.1 237.2 L619.5 223.8 L639.5 240.5 L636.2 260.5 L619.5 273.8 L599.5 267.2Z" fill="#fee0a3"/>
<path d="M696.2 290.5 L719.5 283.9 L722.9 307.2 L719.5 333.9 L699.5 327.2 L696.2 307.2Z" fill="#fee0a3"/>
<path d="M572.8 207.1 L592.8 197.1 L599.5 207.1 L596.1 237.2 L599.5 267.2 L592.8 290.5 L579.4 307.2 L572.8 287.2 L572.8 260.5 L579.4 240.5 L592.8 223.8Z" fill="#f4a06e"/>
<path d="M1114.7 258.5 L1139.8 252.9 L1142.6 269.6 L1159.4 278 L1173.3 289.2 L1178.9 294.8 L1190.1 289.2 L1195.7 275.2 L1201.3 289.2 L1212.4 308.7 L1229.2 317.1 L1251.5 317.1 L1251.5 328.3 L1218 322.7 L1215.2 364.6 L1195.7 367.4 L1181.7 353.4 L1167.7 336.7 L1148.2 317.1 L1128.6 314.3 L1123 294.8 L1114.7 280.8Z" fill="#f4a06e"/>
<path d="M1116.1 259.8 L1138.4 254.3 L1139.8 269.6 L1148.2 280.8 L1139.8 292 L1125.8 289.2 L1118.8 278Z" fill="#ea6946"/>
<path d="M1167.7 292 L1187.3 289.2 L1201.3 303.1 L1212.4 317.1 L1212.4 342.3 L1195.7 347.8 L1178.9 331.1 L1167.7 314.3Z" fill="#ea6946"/>
<path d="M1059.5 423.9 L1089.5 417.3 L1126.2 420.6 L1172.9 423.9 L1189.6 427.3 L1206.3 407.3 L1212.4 373 L1218 322.7 L1251.5 328.3 L1251.5 317.1 L1268.3 308.7 L1279.5 293.4 L1320 293.4 L1320 319.9 L1359.1 311.5 L1419.1 364.6 L1419.1 616 L872.7 607.4 L872.7 547.4 L916.1 534 L946.1 500.7 L972.8 480.6 L1006.1 487.3 L1039.5 484 L1059.5 474 L1072.8 457.3 L1066.2 440.6Z" fill="#f4a06e"/>
<path d="M916.1 540.7 L946.1 504 L972.8 497.3 L992.8 500.7 L1006.1 514 L999.5 590.7 L916.1 590.7 L896.1 564Z" fill="#ea6946"/>
<path d="M1076.2 427.3 L1089.5 420.6 L1106.2 430.6 L1109.5 450.6 L1099.5 474 L1102.9 507.3 L1092.9 534 L1066.2 534 L1062.8 500.7 L1072.8 480.6 L1079.5 457.3Z" fill="#ea6946"/>
<path d="M1301.8 319.9 L1359.1 311.5 L1359.1 370.2 L1419.1 375.8 L1419.1 616 L1240.4 616 L1240.4 535 L1215.2 518.2 L1192.9 490.3 L1190.1 448.4 L1195.7 431.6 L1212.4 420.5 L1212.4 373 L1254.3 364.6 L1257.1 345 L1296.2 345 L1296.2 364.6Z" fill="#ea6946"/>
<path d="M1271.1 370.2 L1363.3 371.6 L1419.1 386.9 L1419.1 616 L1299 616 L1248.7 549 L1240.4 535 L1248.7 526.6 L1234.8 504.3 L1234.8 479.1 L1218 459.6 L1220.8 437.2 L1206.8 428.8 L1212.4 420.5 L1237.6 417.7 L1240.4 392.5 L1251.5 378.6Z" fill="#d92825"/>
<use href="#city" fill="url(#tex)" opacity="1"/>
<path d="M1271.1 370.2 L1363.3 371.6 L1419.1 386.9 L1419.1 616 L1299 616 L1248.7 549 L1240.4 535 L1248.7 526.6 L1234.8 504.3 L1234.8 479.1 L1218 459.6 L1220.8 437.2 L1206.8 428.8 L1212.4 420.5 L1237.6 417.7 L1240.4 392.5 L1251.5 378.6Z" fill="#d92825"/>
</g>
<path d="M266 78L300 93L353 117L357 119.5L345 108.5L302 88.5L271 74Z" fill="#fff"/>
<use href="#lines"/>
</g>
</g>
<g font-size="19">
<text x="55.1" y="291" font-weight="bold" font-size="19">NDVI</text>
<rect x="54.6" y="302.2" width="39" height="19.6" fill="#4575b9" stroke="#777" stroke-opacity="0.6" stroke-width="0.7"/>
<text x="99.9" y="318.7">-0.023843 - 0.004277</text>
<rect x="54.6" y="330.4" width="39" height="19.6" fill="#7a9acb" stroke="#777" stroke-opacity="0.6" stroke-width="0.7"/>
<text x="99.9" y="346.9">0.004278 - 0.026837</text>
<rect x="54.6" y="358.7" width="39" height="19.6" fill="#a8b6bd" stroke="#777" stroke-opacity="0.6" stroke-width="0.7"/>
<text x="99.9" y="375.2">0.026838 - 0.048878</text>
<rect x="54.6" y="386.9" width="39" height="19.6" fill="#e2e8c0" stroke="#777" stroke-opacity="0.6" stroke-width="0.7"/>
<text x="99.9" y="403.4">0.048879 - 0.075713</text>
<rect x="54.6" y="415.2" width="39" height="19.6" fill="#fee0a3" stroke="#777" stroke-opacity="0.6" stroke-width="0.7"/>
<text x="99.9" y="431.7">0.075714 - 0.107309</text>
<rect x="54.6" y="443.4" width="39" height="19.6" fill="#f4a06e" stroke="#777" stroke-opacity="0.6" stroke-width="0.7"/>
<text x="99.9" y="459.9">0.107310 - 0.134471</text>
<rect x="54.6" y="471.6" width="39" height="19.6" fill="#ea6946" stroke="#777" stroke-opacity="0.6" stroke-width="0.7"/>
<text x="99.9" y="488.1">0.134472 - 0.156973</text>
<rect x="54.6" y="499.9" width="39" height="19.6" fill="#d92825" stroke="#777" stroke-opacity="0.6" stroke-width="0.7"/>
<text x="99.9" y="516.4">0.156974 - 0.184864</text>
<rect x="55.5" y="529.2" width="36.7" height="16.5" fill="#fff" stroke="#666" stroke-width="3"/>
<text x="101.3" y="543">District_boundary</text>
<use href="#stn" x="74" y="566.3"/>
<text x="101" y="572">Train station</text>
<line x1="75.6" x2="93" y1="593.5" y2="593.5" stroke="#333" stroke-width="1.6"/>
<text x="100.3" y="599.7">Railway</text>
</g>
<g font-size="19">
<text x="55.1" y="884" font-weight="bold" font-size="19">CBD</text>
<rect x="54.6" y="897.3" width="35.4" height="16.9" fill="#4575b9" stroke="#777" stroke-opacity="0.6" stroke-width="0.7"/>
<text x="97.8" y="911.8">1.039223 - 1.067978</text>
<rect x="54.6" y="924.8" width="35.4" height="16.9" fill="#7a9acb" stroke="#777" stroke-opacity="0.6" stroke-width="0.7"/>
<text x="97.8" y="939.3">1.067979 - 1.123834</text>
<rect x="54.6" y="952.3" width="35.4" height="16.9" fill="#a8b6bd" stroke="#777" stroke-opacity="0.6" stroke-width="0.7"/>
<text x="97.8" y="966.8">1.123835 - 1.188006</text>
<rect x="54.6" y="979.8" width="35.4" height="16.9" fill="#e2e8c0" stroke="#777" stroke-opacity="0.6" stroke-width="0.7"/>
<text x="97.8" y="994.3">1.188007 - 1.245526</text>
<rect x="54.6" y="1007.3" width="35.4" height="16.9" fill="#fee0a3" stroke="#777" stroke-opacity="0.6" stroke-width="0.7"/>
<text x="97.8" y="1021.8">1.245527 - 1.276520</text>
<rect x="54.6" y="1034.8" width="35.4" height="16.9" fill="#f4a06e" stroke="#777" stroke-opacity="0.6" stroke-width="0.7"/>
<text x="97.8" y="1049.3">1.276521 - 1.289048</text>
<rect x="54.6" y="1062.3" width="35.4" height="16.9" fill="#ea6946" stroke="#777" stroke-opacity="0.6" stroke-width="0.7"/>
<text x="97.8" y="1076.8">1.289049 - 1.299920</text>
<rect x="54.6" y="1089.8" width="35.4" height="16.9" fill="#d92825" stroke="#777" stroke-opacity="0.6" stroke-width="0.7"/>
<text x="97.8" y="1104.3">1.299921 - 1.310447</text>
<rect x="55.5" y="1118.1" width="33" height="15.600000000000001" fill="#fff" stroke="#666" stroke-width="3"/>
<text x="97.2" y="1131">District_boundary</text>
<use href="#stn" x="72" y="1152.2"/>
<text x="97.2" y="1159.9">Train station</text>
<line x1="76.6" x2="89" y1="1180.5" y2="1180.5" stroke="#333" stroke-width="1.6"/>
<text x="97" y="1187.7">Railway</text>
</g>
<g font-size="20.6">
<text x="55.1" y="1472" font-weight="bold" font-size="19.6">BUS</text>
<rect x="54.6" y="1486.3" width="28.2" height="14" fill="#4575b9" stroke="#777" stroke-opacity="0.6" stroke-width="0.7"/>
<text x="87.9" y="1499.7">-0.636674 - -0.462784</text>
<rect x="54.6" y="1514.3" width="28.2" height="14" fill="#7a9acb" stroke="#777" stroke-opacity="0.6" stroke-width="0.7"/>
<text x="87.9" y="1527.7">-0.462783 - -0.371377</text>
<rect x="54.6" y="1542.3" width="28.2" height="14" fill="#a8b6bd" stroke="#777" stroke-opacity="0.6" stroke-width="0.7"/>
<text x="87.9" y="1555.7">-0.371376 - -0.282246</text>
<rect x="54.6" y="1570.3" width="28.2" height="14" fill="#e2e8c0" stroke="#777" stroke-opacity="0.6" stroke-width="0.7"/>
<text x="87.9" y="1583.7">-0.282245 - -0.198505</text>
<rect x="54.6" y="1598.3" width="28.2" height="14" fill="#fee0a3" stroke="#777" stroke-opacity="0.6" stroke-width="0.7"/>
<text x="87.9" y="1611.7">-0.198504 - -0.125053</text>
<rect x="54.6" y="1626.3" width="28.2" height="14" fill="#f4a06e" stroke="#777" stroke-opacity="0.6" stroke-width="0.7"/>
<text x="87.9" y="1639.7">-0.125052 - -0.054385</text>
<rect x="54.6" y="1654.3" width="28.2" height="14" fill="#ea6946" stroke="#777" stroke-opacity="0.6" stroke-width="0.7"/>
<text x="87.9" y="1667.7">-0.054384 - 0.022512</text>
<rect x="54.6" y="1682.3" width="28.2" height="14" fill="#d92825" stroke="#777" stroke-opacity="0.6" stroke-width="0.7"/>
<text x="87.9" y="1695.7">0.022513 - 0.120627</text>
<rect x="55.5" y="1710.2" width="25.8" height="12" fill="#fff" stroke="#666" stroke-width="3"/>
<text x="89" y="1722">District_boundary</text>
<use href="#stn" x="68.4" y="1742.2"/>
<text x="89" y="1750.9">Train station</text>
<line x1="76.6" x2="81.8" y1="1772.5" y2="1772.5" stroke="#333" stroke-width="1.6"/>
<text x="89" y="1778.7">Railway</text>
</g>
<rect x="306.6" y="570.2" width="244.7" height="12" fill="#000"/>
<rect x="431.5" y="572.4000000000001" width="117.6" height="7.6" fill="#fff"/>
<text class="sans" x="308" y="564.2" text-anchor="middle">0</text>
<text class="sans" x="428.5" y="564.2" text-anchor="middle">2.5</text>
<text class="sans" x="550" y="564.2" text-anchor="middle">5</text>
<text class="sans" x="553.5" y="580.2">km</text>
<rect x="306.6" y="1163" width="244.7" height="12" fill="#000"/>
<rect x="431.5" y="1165.2" width="117.6" height="7.6" fill="#fff"/>
<text class="sans" x="308" y="1157" text-anchor="middle">0</text>
<text class="sans" x="428.5" y="1157" text-anchor="middle">2.5</text>
<text class="sans" x="550" y="1157" text-anchor="middle">5</text>
<text class="sans" x="553.5" y="1173">km</text>
<rect x="306.6" y="1758" width="244.7" height="12" fill="#000"/>
<rect x="431.5" y="1760.2" width="117.6" height="7.6" fill="#fff"/>
<text class="sans" x="308" y="1752" text-anchor="middle">0</text>
<text class="sans" x="428.5" y="1752" text-anchor="middle">2.5</text>
<text class="sans" x="550" y="1752" text-anchor="middle">5</text>
<text class="sans" x="553.5" y="1768">km</text>
<use href="#compass" x="1290.1" y="81.4"/>
<use href="#compass" x="1290.1" y="674.5"/>
<use href="#compass" x="1290.1" y="1264.8"/>
<use href="#stn" x="847.4" y="447.3"/>
<use href="#stn" x="1279.4" y="383.6"/>
<text class="st" x="1129.4" y="408.8">PingDingShan East Railway Station</text>
<text class="lab" x="169" y="293">Xincheng District</text>
<text class="lab" x="533.5" y="183">Xinhua District</text>
<text class="lab" x="984" y="244">Weidong District</text>
<text class="lab" x="759" y="520.3">Zhanhe District</text>
<text class="lab" x="1201" y="508.3">High-tech District</text>
<use href="#stn" x="846.3" y="1038.7"/>
<use href="#stn" x="1278.4" y="975.1"/>
<text class="st" x="1129" y="1000">PingDingShan East Railway Station</text>
<text class="st" x="717.2" y="1065.1">PingDingShan Railway Station</text>
<text class="lab" x="170" y="883">Xincheng District</text>
<text class="lab" x="531" y="775.5">Xinhua District</text>
<text class="lab" x="984" y="835">Weidong District</text>
<text class="lab" x="757.6" y="1112.4">Zhanhe District</text>
<text class="lab" x="1201" y="1099">High-tech District</text>
<use href="#stn" x="841.5" y="1631"/>
<use href="#stn" x="1273.2" y="1567.2"/>
<text class="st" x="1123.3" y="1594.2">PingDingShan East Railway Station</text>
<text class="lab" x="167.2" y="1478">Xincheng District</text>
<text class="lab" x="527" y="1366">Xinhua District</text>
<text class="lab" x="978" y="1427.5">Weidong District</text>
<text class="lab" x="752" y="1704">Zhanhe District</text>
<text class="lab" x="1200.5" y="1690.5">High-tech District</text>
<rect x="19.5" y="18.5" width="1418.0" height="1769.3" fill="none" stroke="#000" stroke-width="2"/>
<line x1="19.5" x2="1437.5" y1="607.6" y2="607.6" stroke="#000" stroke-width="2"/>
<line x1="19.5" x2="1437.5" y1="1197.8" y2="1197.8" stroke="#000" stroke-width="2"/>
</svg></body></html>
